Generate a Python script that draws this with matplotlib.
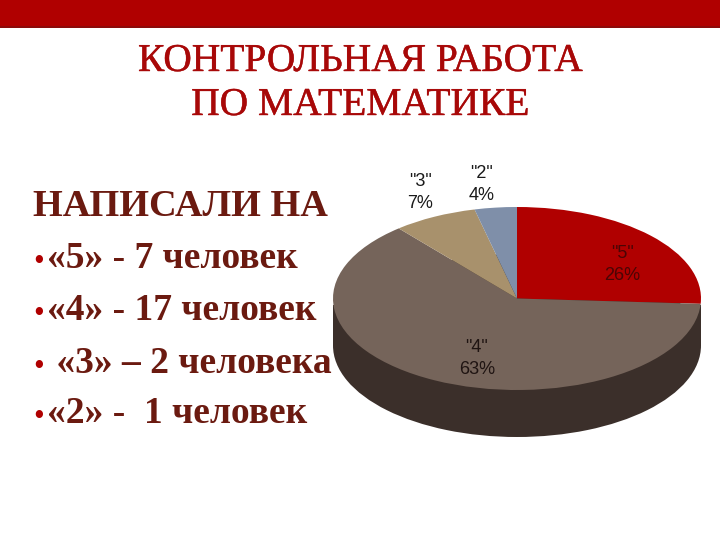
# -*- coding: utf-8 -*-
import matplotlib
matplotlib.use('Agg')
import matplotlib.pyplot as plt
import matplotlib.patheffects as pe
from matplotlib.patches import Rectangle

# pie data
grades = ['"5"', '"4"', '"3"', '"2"']
counts = [7, 17, 2, 1]
percents = ['26%', '63%', '7%', '4%']
colors = ['#b00000', '#75645a', '#a8916c', '#7f8fa9']
title_lines = ['КОНТРОЛЬНАЯ РАБОТА', 'ПО МАТЕМАТИКЕ']
heading = 'НАПИСАЛИ НА'
items = ['«5» - 7 человек', '«4» - 17 человек', ' «3» – 2 человека', '«2» -  1 человек']

W, H = 720, 540
cx, cy, rx, ry, depth = 517, 298.5, 184, 91.5, 47
side_color = '#3b2f2a'
red = '#a80808'
body_color = '#6b1a10'

fig = plt.figure(figsize=(7.2, 5.4), dpi=100)

# full figure axes, unit circle scaled to the ellipse of the pie
ax = fig.add_axes([0, 0, 1, 1])
ax.pie([1], colors=[side_color], center=(0, -depth / ry), radius=1, startangle=90)
ax.add_patch(Rectangle((-1, -depth / ry), 2, depth / ry - 0.07, facecolor=side_color, lw=0, zorder=0.5))
ax.pie(counts, colors=colors, startangle=90, counterclock=False, radius=1)
ax.set_aspect('auto')
ax.set_xlim(-cx / rx, (W - cx) / rx)
ax.set_ylim((cy - H) / ry, cy / ry)
ax.axis('off')

# top band, darker line at its lower edge
fig.patches.append(Rectangle((0, 1 - 28 / H), 1, 28 / H, transform=fig.transFigure, facecolor='#b00000', lw=0))
fig.patches.append(Rectangle((0, 1 - 28 / H), 1, 2 / H, transform=fig.transFigure, facecolor='#8c0a0a', lw=0))


def put(x, y, s, **kw):
    return fig.text(x / W, 1 - y / H, s, **kw)


serif = ['Liberation Serif', 'DejaVu Serif']
sans = ['Liberation Sans', 'DejaVu Sans']

# title is a bit heavier than regular weight
for y, line in zip([71, 115], title_lines):
    t = put(360, y, line, family=serif, fontsize=28.4, color=red, ha='center', va='baseline')
    t.set_path_effects([pe.withStroke(linewidth=0.3, foreground=red)])

put(33, 216, heading, family=serif, fontsize=27.6, color=body_color, ha='left', va='baseline', weight='bold')

rows = [268, 320, 373, 423]
for y, item in zip(rows, items):
    put(39, y + 2, '•', family=serif, fontsize=22, color='#b00000', ha='center', va='baseline')
    put(47, y, item, family=serif, fontsize=27, color=body_color, ha='left', va='baseline', weight='bold')

# slice labels
label_pos = [(622, 264), (477, 358), (420, 193), (482, 185)]
label_colors = ['#4a0505', '#1f1412', '#1a1a1a', '#1a1a1a']
for (x, y), g, p, c in zip(label_pos, grades, percents, label_colors):
    put(x, y - 11, g, family=sans, fontsize=13, color=c, ha='center', va='center')
    put(x, y + 11, p, family=sans, fontsize=13, color=c, ha='center', va='center')

fig.savefig('out.png', dpi=100)
